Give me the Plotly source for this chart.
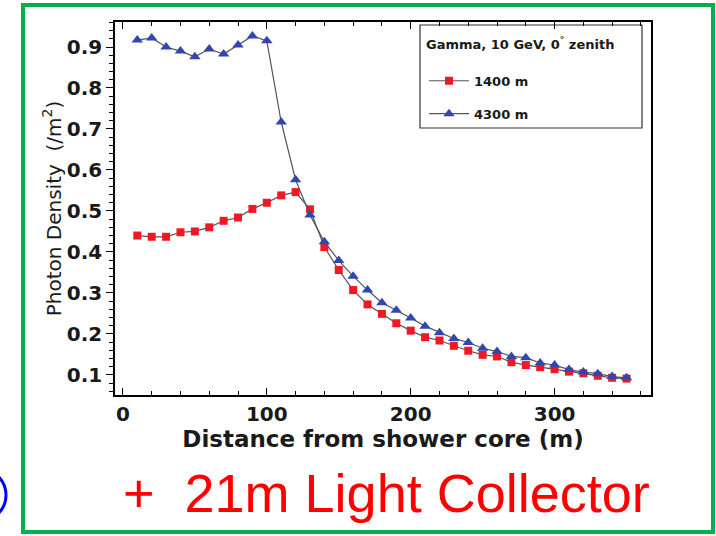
import plotly.graph_objects as go

distance = [10, 20, 30, 40, 50, 60, 70, 80, 90, 100,
            110, 120, 130, 140, 150, 160, 170, 180, 190, 200,
            210, 220, 230, 240, 250, 260, 270, 280, 290, 300,
            310, 320, 330, 340, 350]

dens_1400 = [0.440, 0.437, 0.437, 0.448, 0.450, 0.460, 0.476, 0.484, 0.505, 0.520,
             0.538, 0.546, 0.504, 0.412, 0.356, 0.307, 0.272, 0.249, 0.226, 0.208,
             0.192, 0.184, 0.171, 0.159, 0.149, 0.145, 0.131, 0.124, 0.119, 0.114,
             0.108, 0.104, 0.098, 0.093, 0.091]

dens_4300 = [0.917, 0.922, 0.900, 0.890, 0.876, 0.895, 0.883, 0.905, 0.927, 0.915,
             0.717, 0.576, 0.490, 0.425, 0.379, 0.341, 0.307, 0.276, 0.258, 0.239,
             0.219, 0.203, 0.189, 0.179, 0.165, 0.157, 0.145, 0.142, 0.129, 0.124,
             0.113, 0.107, 0.103, 0.096, 0.093]

x_ticks = [0, 100, 200, 300]
y_ticks = [0.1, 0.2, 0.3, 0.4, 0.5, 0.6, 0.7, 0.8, 0.9]

BOLD = "DejaVu Sans"
GREEN = "rgb(0,176,80)"
INK = "#1a1a1a"

fig = go.Figure()
fig.add_trace(go.Scatter(
    x=distance, y=dens_1400, mode="lines+markers", name="1400 m",
    legendgroup="a",
    line=dict(color="#555555", width=1.2),
    marker=dict(symbol="square", size=8, color="rgb(240,25,35)"),
))
fig.add_trace(go.Scatter(
    x=distance, y=dens_4300, mode="lines+markers", name="4300 m",
    legendgroup="b",
    line=dict(color="#555555", width=1.2),
    marker=dict(symbol="triangle-up", size=10, color="rgb(50,70,175)"),
))

PL, PR, PT, PB = 115, 651, 22, 395  # plot area in px
W, H = 716, 536


def px(xp):
    return (xp - PL) / (PR - PL)


def py(yp):
    return (PB - yp) / (PB - PT)


fig.update_layout(
    width=W, height=H,
    margin=dict(l=PL, r=W - PR, t=PT, b=H - PB),
    paper_bgcolor="white", plot_bgcolor="white",
    font=dict(family=BOLD, color=INK),
    showlegend=True,
    legend=dict(
        x=px(424), y=py(32), xanchor="left", yanchor="top",
        bgcolor="rgba(0,0,0,0)", borderwidth=0,
        traceorder="grouped", tracegroupgap=13, itemwidth=40,
        font=dict(family=BOLD, size=13, weight="bold", color=INK),
        title=dict(text="Gamma, 10 GeV, 0<sup>°</sup> zenith<br> ",
                   font=dict(family=BOLD, size=13, weight="bold", color=INK)),
    ),
    xaxis=dict(
        range=[-5.5, 367], tickvals=x_ticks, ticktext=[str(v) for v in x_ticks],
        ticks="inside", ticklen=7, tickwidth=1, tickcolor="black",
        minor=dict(dtick=20, tick0=0, ticks="inside", ticklen=4, tickcolor="black"),
        showline=True, linecolor="black", linewidth=1.5, mirror="ticks",
        showgrid=False, zeroline=False,
        tickfont=dict(family=BOLD, size=20, weight="bold", color=INK),
        title=dict(text="Distance from shower core (m)", standoff=0,
                   font=dict(family=BOLD, size=23, weight="bold", color=INK)),
    ),
    yaxis=dict(
        range=[0.051, 0.961], tickvals=y_ticks, ticktext=[f"{v:.1f}" for v in y_ticks],
        ticks="outside", ticklen=7, tickwidth=1, tickcolor="black",
        minor=dict(dtick=0.02, tick0=0, ticks="outside", ticklen=4, tickcolor="black"),
        showline=True, linecolor="black", linewidth=1.5, mirror=True,
        showgrid=False, zeroline=False,
        tickfont=dict(family=BOLD, size=20, weight="bold", color=INK),
        title=dict(text="Photon Density  (/m<sup>2</sup>)", standoff=0,
                   font=dict(family=BOLD, size=20, color=INK)),
    ),
    yaxis2=dict(
        range=[0.051, 0.961], overlaying="y", side="right", tickvals=y_ticks,
        showticklabels=False, ticks="inside", ticklen=7, tickcolor="black",
        minor=dict(dtick=0.02, tick0=0, ticks="inside", ticklen=4, tickcolor="black"),
        showline=False, showgrid=False, zeroline=False,
    ),
    shapes=[
        # legend box
        dict(type="rect", xref="paper", yref="paper",
             x0=px(420), x1=px(642), y0=py(128), y1=py(25),
             line=dict(color="#333333", width=1.2), fillcolor="rgba(0,0,0,0)", layer="below"),
        # green slide frame
        dict(type="rect", xref="paper", yref="paper",
             x0=px(23), x1=px(713), y0=py(532), y1=py(5),
             line=dict(color=GREEN, width=4)),
        # partially visible blue circle
        dict(type="circle", xref="paper", yref="paper",
             x0=px(-60), x1=px(6), y0=py(524), y1=py(466),
             line=dict(color="blue", width=3)),
    ],
    annotations=[
        dict(text="+  21m Light Collector", xref="paper", yref="paper",
             x=px(386), y=py(493), xanchor="center", yanchor="middle",
             showarrow=False,
             font=dict(family="Liberation Sans", size=54, color="red")),
    ],
)

fig.write_html("out.html", config={"displayModeBar": False},
               post_script="document.body.style.margin='0';")
